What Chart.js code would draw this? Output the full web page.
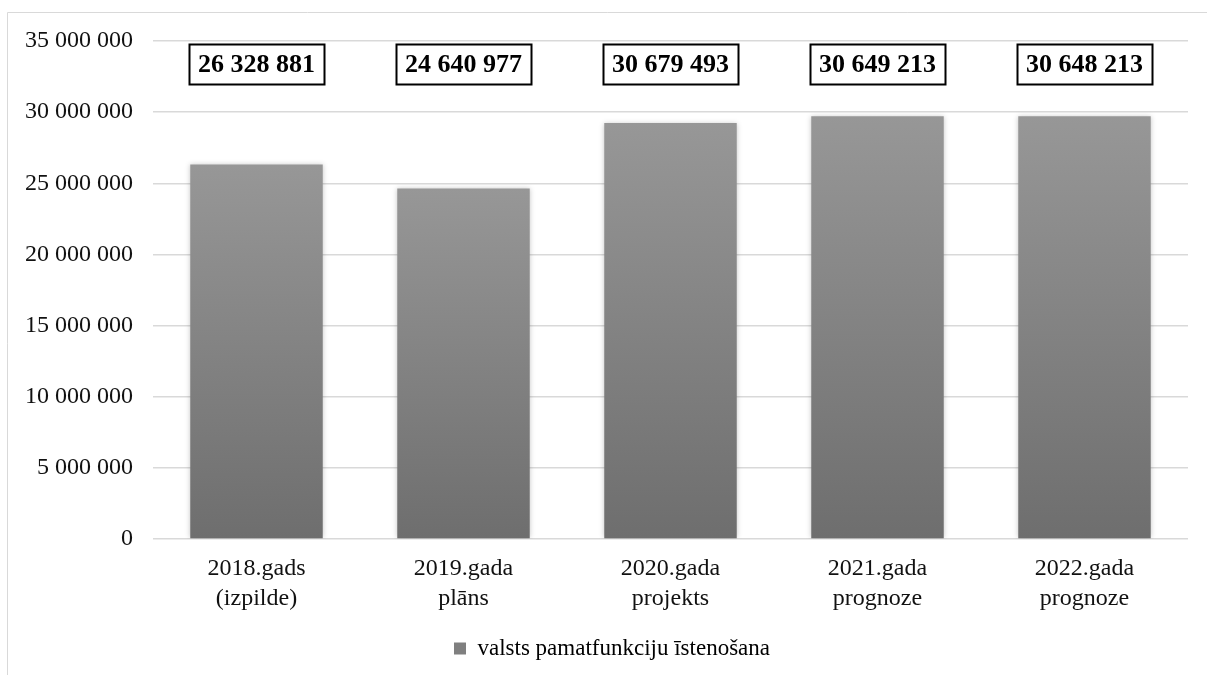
<!DOCTYPE html>
<html>
<head>
<meta charset="utf-8">
<script src="https://cdn.jsdelivr.net/npm/chart.js@4/dist/chart.umd.min.js"></script>
<style>
html,body{margin:0;padding:0;background:#fff;}
#wrap{position:relative;width:1207px;height:675px;}
</style>
</head>
<body>
<div id="wrap"><canvas id="c" width="1207" height="675"></canvas></div>
<script>
const categories = [
  ['2018.gads', '(izpilde)'],
  ['2019.gada', 'plāns'],
  ['2020.gada', 'projekts'],
  ['2021.gada', 'prognoze'],
  ['2022.gada', 'prognoze']
];
const seriesName = 'valsts pamatfunkciju īstenošana';
const barValues = [26328881, 24640977, 29230000, 29720000, 29720000];
const labelTexts = ['26 328 881', '24 640 977', '30 679 493', '30 649 213', '30 648 213'];
const yTicks = [0, 5000000, 10000000, 15000000, 20000000, 25000000, 30000000, 35000000];

const SERIF = '"Liberation Serif", "Times New Roman", serif';
const fmt = v => String(v).replace(/\B(?=(\d{3})+(?!\d))/g, ' ');

const framePlugin = {
  id: 'frame',
  beforeDraw(chart) {
    const ctx = chart.ctx;
    ctx.save();
    ctx.fillStyle = '#fff';
    ctx.fillRect(0, 0, chart.width, chart.height);
    ctx.strokeStyle = '#d9d9d9';
    ctx.lineWidth = 1;
    ctx.beginPath();
    ctx.moveTo(7.5, chart.height);
    ctx.lineTo(7.5, 12.5);
    ctx.lineTo(chart.width, 12.5);
    ctx.stroke();
    ctx.restore();
  }
};

const legendShiftPlugin = {
  id: 'legendShift',
  afterLayout(chart) {
    if (chart.legend) {
      chart.legend.left += 18;
      chart.legend.right += 18;
    }
  }
};

const shadowPlugin = {
  id: 'barShadow',
  beforeDatasetsDraw(chart) {
    const ctx = chart.ctx;
    ctx.save();
    ctx.shadowColor = 'rgba(0,0,0,0.22)';
    ctx.shadowBlur = 5;
    ctx.shadowOffsetX = 0;
    ctx.shadowOffsetY = 0;
  },
  afterDatasetsDraw(chart) {
    chart.ctx.restore();
  }
};

const boxLabelPlugin = {
  id: 'boxLabels',
  afterDatasetsDraw(chart) {
    const ctx = chart.ctx;
    const meta = chart.getDatasetMeta(0);
    const yScale = chart.scales.y;
    const yc = yScale.getPixelForValue(33400000);
    ctx.save();
    ctx.font = 'bold 26px ' + SERIF;
    ctx.textAlign = 'center';
    ctx.textBaseline = 'middle';
    meta.data.forEach((bar, i) => {
      const t = labelTexts[i];
      const w = ctx.measureText(t).width + 18;
      const h = 40;
      const x = bar.x;
      ctx.fillStyle = '#fff';
      ctx.fillRect(x - w / 2, yc - h / 2, w, h);
      ctx.strokeStyle = '#000';
      ctx.lineWidth = 2;
      ctx.strokeRect(Math.round(x - w / 2) + 0.5, Math.round(yc - h / 2) + 0.5, Math.round(w), h);
      ctx.fillStyle = '#000';
      ctx.fillText(t, x, yc + 2);
    });
    ctx.restore();
  }
};

new Chart(document.getElementById('c'), {
  type: 'bar',
  data: {
    labels: categories,
    datasets: [{
      label: seriesName,
      data: barValues,
      backgroundColor(context) {
        const chart = context.chart;
        const yScale = chart.scales.y;
        if (!yScale || context.type !== 'data') return '#858585';
        const top = yScale.getPixelForValue(context.raw);
        const bottom = yScale.getPixelForValue(0);
        const g = chart.ctx.createLinearGradient(0, top, 0, bottom);
        g.addColorStop(0, '#979797');
        g.addColorStop(1, '#6e6e6e');
        return g;
      },
      borderWidth: 0,
      categoryPercentage: 1,
      barPercentage: 0.64
    }]
  },
  options: {
    responsive: false,
    animation: false,
    devicePixelRatio: 1,
    layout: { padding: { top: 41, right: 19, bottom: 5, left: 0 } },
    scales: {
      x: {
        afterFit(scale) { scale.height = 88; },
        grid: { display: false },
        border: { display: false },
        ticks: {
          color: '#111',
          font: { family: SERIF, size: 24, lineHeight: 1.25 },
          padding: 7,
          maxRotation: 0,
          autoSkip: false
        }
      },
      y: {
        min: 0,
        max: 35000000,
        afterBuildTicks(scale) {
          scale.ticks = yTicks.map(v => ({ value: v }));
        },
        afterFit(scale) { scale.width = 153; },
        grid: { color: '#d9d9d9', lineWidth: 1.5, drawTicks: false },
        border: { display: false },
        ticks: {
          color: '#111',
          font: { family: SERIF, size: 24 },
          padding: 20,
          callback: v => fmt(v)
        }
      }
    },
    plugins: {
      legend: {
        position: 'bottom',
        labels: {
          color: '#111',
          font: { family: SERIF, size: 23 },
          boxWidth: 12,
          boxHeight: 12,
          padding: 10,
          generateLabels() {
            return [{ text: seriesName, fillStyle: '#7f7f7f', strokeStyle: '#7f7f7f', lineWidth: 0, datasetIndex: 0 }];
          }
        }
      },
      tooltip: { enabled: false }
    }
  },
  plugins: [framePlugin, legendShiftPlugin, shadowPlugin, boxLabelPlugin]
});
</script>
</body>
</html>
